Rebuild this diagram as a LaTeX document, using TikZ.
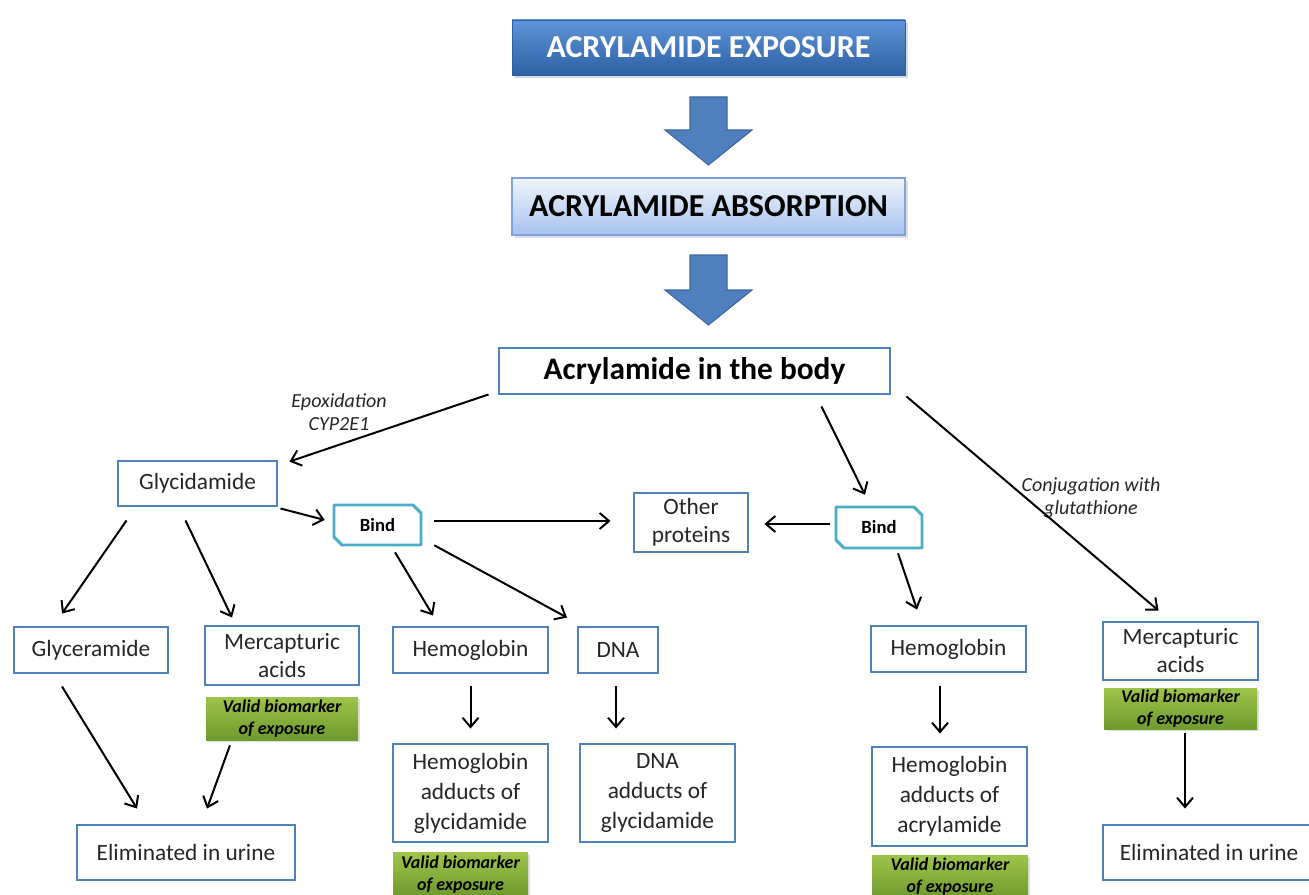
\documentclass[tikz,border=0pt]{standalone}
\usepackage{fontspec}
\setmainfont{Carlito}
\usetikzlibrary{arrows.meta,calc,shadows}
\definecolor{boxblue}{HTML}{4F81BD}
\definecolor{bindcyan}{HTML}{4BACC6}
\definecolor{expotop}{HTML}{5F95DA}
\definecolor{expobot}{HTML}{2D5FA3}
\definecolor{abstop}{HTML}{F0F5FD}
\definecolor{absbot}{HTML}{A6C2EE}
\definecolor{absline}{HTML}{7EA3DB}
\definecolor{greentop}{HTML}{9DC44A}
\definecolor{greenbot}{HTML}{6E9A2E}
\definecolor{bigarrow}{HTML}{4F7FBF}
\definecolor{bigarrowline}{HTML}{3B679F}
\definecolor{txt}{HTML}{262626}
\begin{document}
\begin{tikzpicture}[x=0.75pt,y=-0.75pt,
  sz/.style 2 args={minimum width=#1*0.75pt, minimum height=#2*0.75pt, inner sep=0pt},
  wbox/.style={draw=boxblue, line width=2.2pt, fill=white, align=center, text=txt,
     font=\fontsize{17.5pt}{21pt}\selectfont},
  tallbox/.style={wbox, font=\fontsize{17.5pt}{22.5pt}\selectfont},
  bindtext/.style={text=black, font=\bfseries\fontsize{14pt}{16pt}\selectfont},
  bindline/.style={draw=bindcyan, line width=2.2pt, fill=white, line join=round},
  greenbox/.style={top color=greentop, bottom color=greenbot, draw=none, align=center,
     drop shadow={opacity=0.25, shadow xshift=1.5pt, shadow yshift=-1.5pt},
     font=\bfseries\itshape\fontsize{13.5pt}{16.5pt}\selectfont, text=black},
  lbl/.style={align=center, text=txt, font=\itshape\fontsize{15pt}{17pt}\selectfont},
  arr/.style={line width=1.5pt, -{Straight Barb[length=7pt,width=12pt]}},
  bigarr/.style={fill=bigarrow, draw=bigarrowline, line width=0.8pt}
]
\useasboundingbox (0,0) rectangle (1309,895);

% top blocks
\node[sz={393}{55}, top color=expotop, bottom color=expobot, draw=expobot, line width=0.6pt,
      drop shadow={opacity=0.3, shadow xshift=2pt, shadow yshift=-2pt},
      text=white, font=\bfseries\fontsize{24pt}{28pt}\selectfont] (expo) at (708.5,47.5) {ACRYLAMIDE EXPOSURE};
\node[sz={393}{57}, top color=abstop, bottom color=absbot, draw=absline, line width=0.8pt,
      drop shadow={opacity=0.25, shadow xshift=2pt, shadow yshift=-2pt},
      text=black, font=\bfseries\fontsize{24pt}{28pt}\selectfont] (absorp) at (708.5,206.5) {ACRYLAMIDE ABSORPTION};

\draw[bigarr] (665,130) -- (690,130) -- (690,97) -- (727,97) -- (727,130) -- (752,130) -- (708.5,165) -- cycle;
\draw[bigarr] (665,290) -- (690,290) -- (690,255) -- (727,255) -- (727,290) -- (752,290) -- (708.5,325) -- cycle;

\node[wbox, sz={391}{46}, text=black, font=\bfseries\fontsize{23.5pt}{27pt}\selectfont] (body) at (694.5,371) {Acrylamide in the body};

% second level
\node[wbox, sz={159}{45}] (glyc) at (197.5,483.5) {Glycidamide};
\node[wbox, sz={114}{59}] (other) at (691,522.5) {Other\\proteins};

\coordinate (b1nw) at (334,505); \coordinate (b1se) at (421,545);
\draw[bindline] (b1nw) -- (413,505) -- (421,513) -- (b1se) -- (342,545) -- (334,537) -- cycle;
\node[bindtext, sz={87}{40}] (bind1) at (377.5,525) {Bind};
\coordinate (b2nw) at (836,507); \coordinate (b2se) at (922,548);
\draw[bindline] (b2nw) -- (914,507) -- (922,515) -- (b2se) -- (844,548) -- (836,540) -- cycle;
\node[bindtext, sz={86}{41}] (bind2) at (879,527.5) {Bind};

% third level
\node[wbox, sz={154}{46}] (glycer) at (91,650) {Glyceramide};
\node[wbox, sz={154}{59}] (merc1) at (282,655.5) {Mercapturic\\acids};
\node[greenbox, sz={152}{43}] (green1) at (282,718.5) {Valid biomarker\\of exposure};
\node[wbox, sz={155}{46}] (hb1) at (470.5,650) {Hemoglobin};
\node[wbox, sz={80}{46}] (dna) at (618,650) {DNA};
\node[wbox, sz={155}{46}] (hb2) at (948.5,649) {Hemoglobin};
\node[wbox, sz={155}{58}] (merc2) at (1180.5,651) {Mercapturic\\acids};
\node[greenbox, sz={153}{41}] (green2) at (1180.5,708.5) {Valid biomarker\\of exposure};

% fourth level
\node[tallbox, sz={155}{98}] (hba1) at (470.5,793) {Hemoglobin\\adducts of\\glycidamide};
\node[tallbox, sz={155}{98}] (dnaa) at (657.5,793) {DNA\\adducts of\\glycidamide};
\node[tallbox, sz={155}{99}] (hba2) at (949.5,796.5) {Hemoglobin\\adducts of\\acrylamide};
\node[greenbox, sz={135}{44}] (green3) at (460.5,874.5) {Valid biomarker\\of exposure};
\node[greenbox, sz={156}{44}] (green4) at (950,877) {Valid biomarker\\of exposure};
\node[wbox, sz={218}{55}] (elim1) at (186,852.5) {Eliminated in urine};
\node[wbox, sz={212}{55}] (elim2) at (1209,852.5) {Eliminated in urine};

% labels
\node[lbl] (epox) at (339,412) {Epoxidation\\CYP2E1};
\node[lbl] (conj) at (1091,498) {Conjugation with\\glutathione};

% connectors
\draw[arr] ($(body.south west)+(-9,-1)$) -- ($(glyc.north east)+(11,2)$);
\draw[arr] ($(body.south east)+(-70,11)$) -- ($(bind2.north)+(-14,-12)$);
\draw[arr] ($(body.south east)+(15,1)$) -- ($(merc2.north)+(-22,-10)$);
\draw[arr] ($(glyc.south east)+(2,1)$) -- ($(bind1.west)+(-9,-5)$);
\draw[arr] ($(glyc.south west)+(10,13)$) -- ($(glycer.north)+(-29,-12)$);
\draw[arr] ($(glyc.south)+(-12,13)$) -- ($(merc1.north)+(-50,-7)$);
\draw[arr] ($(bind1.east)+(13,-4)$) -- ($(other.west)+(-22,-1.5)$);
\draw[arr] ($(bind2.west)+(-6,-3.5)$) -- ($(other.east)+(15,1.5)$);
\draw[arr] ($(bind1.south)+(17.5,7)$) -- ($(hb1.north)+(-37.5,-10)$);
\draw[arr] ($(bind1.south east)+(13,0)$) -- ($(dna.north)+(-51,-8)$);
\draw[arr] ($(bind2.south)+(19,5)$) -- ($(hb2.north)+(-31.5,-15)$);
\draw[arr] ($(hb1.south)+(0,12)$) -- ($(hba1.north)+(0,-14)$);
\draw[arr] ($(dna.south)+(-2,12)$) -- ($(dnaa.north)+(-41.5,-14)$);
\draw[arr] ($(hb2.south)+(-8.5,13)$) -- ($(hba2.north)+(-9.5,-12)$);
\draw[arr] ($(glycer.south)+(-29,12)$) -- ($(elim1.north)+(-49,-15)$);
\draw[arr] ($(green1.south)+(-52,5)$) -- ($(elim1.north)+(21,-15)$);
\draw[arr] ($(green2.south)+(4.5,4)$) -- ($(elim2.north)+(-24,-15)$);
\end{tikzpicture}
\end{document}
